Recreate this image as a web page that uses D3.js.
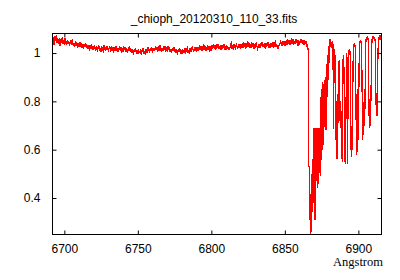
<!DOCTYPE html>
<head>
  <meta charset="utf-8">
  <script src="https://d3js.org/d3.v7.min.js"></script>
</head>
<body>
  <div id="chart"></div>

  <script>
    var width = 400;
    var height = 280;

    var title = "_chioph_20120310_110_33.fits";
    var xLabel = "Angstrom";
    var xTicks = [6700, 6750, 6800, 6850, 6900];
    var yTicks = [0.4, 0.6, 0.8, 1];

    // continuum part of the spectrum, sampled every 0.5 A
    var contStart = 6691.5;
    var contStep = 0.5;
    var contFlux = [
      1.073, 1.041, 1.065, 1.035, 1.070, 1.049, 1.076, 1.043, 1.060, 1.038, 1.062, 1.030, 1.058, 1.041, 1.065, 1.036, 1.055, 1.034, 1.060, 1.040,
      1.032, 1.054, 1.036, 1.051, 1.029, 1.047, 1.053, 1.034, 1.056, 1.030, 1.039, 1.026, 1.048, 1.030, 1.045, 1.021, 1.042, 1.024, 1.047, 1.032,
      1.041, 1.020, 1.035, 1.016, 1.039, 1.025, 1.043, 1.021, 1.032, 1.018, 1.033, 1.010, 1.031, 1.019, 1.037, 1.014, 1.028, 1.012, 1.032, 1.018,
      1.012, 1.030, 1.006, 1.024, 1.031, 1.009, 1.022, 1.005, 1.028, 1.015, 1.008, 1.032, 1.017, 1.007, 1.027, 1.013, 1.029, 1.006, 1.023, 1.026,
      1.005, 1.027, 1.009, 1.024, 1.002, 1.020, 1.026, 1.007, 1.029, 1.003, 1.019, 1.006, 1.028, 1.010, 1.025, 1.001, 1.022, 1.004, 1.027, 1.012,
      1.025, 1.004, 1.019, 1.000, 1.023, 1.009, 1.027, 1.005, 1.016, 1.002, 1.017, 0.994, 1.015, 1.003, 1.021, 0.998, 1.012, 0.996, 1.016, 1.002,
      1.000, 1.018, 0.994, 1.012, 1.019, 0.997, 1.010, 0.993, 1.016, 1.003, 1.002, 1.026, 1.011, 1.001, 1.021, 1.007, 1.023, 1.000, 1.017, 1.020,
      1.007, 1.029, 1.011, 1.026, 1.004, 1.022, 1.028, 1.009, 1.031, 1.005, 1.021, 1.008, 1.030, 1.012, 1.027, 1.003, 1.024, 1.006, 1.029, 1.014,
      1.024, 1.003, 1.018, 0.999, 1.022, 1.008, 1.026, 1.004, 1.015, 1.001, 1.017, 0.994, 1.015, 1.003, 1.021, 0.998, 1.012, 0.996, 1.016, 1.002,
      1.003, 1.021, 0.997, 1.015, 1.022, 1.000, 1.013, 0.996, 1.019, 1.006, 1.005, 1.029, 1.014, 1.004, 1.024, 1.010, 1.026, 1.003, 1.020, 1.023,
      1.010, 1.032, 1.014, 1.029, 1.007, 1.025, 1.031, 1.012, 1.034, 1.008, 1.024, 1.011, 1.033, 1.015, 1.030, 1.006, 1.027, 1.009, 1.032, 1.017,
      1.037, 1.016, 1.031, 1.012, 1.035, 1.021, 1.039, 1.017, 1.028, 1.014, 1.034, 1.011, 1.032, 1.020, 1.038, 1.015, 1.029, 1.013, 1.033, 1.019,
      1.022, 1.013, 1.016, 1.034, 1.041, 1.019, 1.032, 1.015, 1.038, 1.025, 1.018, 1.042, 1.027, 1.017, 1.037, 1.023, 1.039, 1.016, 1.033, 1.036,
      1.022, 1.044, 1.026, 1.041, 1.019, 1.037, 1.043, 1.024, 1.046, 1.020, 1.036, 1.023, 1.045, 1.027, 1.042, 1.018, 1.039, 1.021, 1.044, 1.029,
      1.017, 1.024, 1.039, 1.020, 1.043, 1.029, 1.047, 1.025, 1.036, 1.022, 1.042, 1.019, 1.040, 1.028, 1.046, 1.023, 1.037, 1.021, 1.041, 1.027,
      1.028, 1.046, 1.022, 1.040, 1.047, 1.025, 1.038, 1.021, 1.019, 1.031, 1.030, 1.054, 1.039, 1.029, 1.049, 1.035, 1.051, 1.028, 1.045, 1.048,
      1.035, 1.057, 1.039, 1.054, 1.032, 1.050, 1.056, 1.037, 1.059, 1.033, 1.049, 1.036, 1.058, 1.040, 1.055, 1.031, 1.052, 1.034, 1.057, 1.042,
      1.056, 1.037, 1.052, 1.034, 1.054, 1.039, 1.050, 1.032, 1.035
    ];

    // O2 B band, sampled every 0.25 A
    var bandStart = 6865.75;
    var bandStep = 0.25;
    var bandFlux = [
      1.015, 1.000, 0.530, 0.530, 0.405, 0.450, 0.253, 0.400, 0.260, 0.450, 0.330, 0.500, 0.340, 0.560, 0.420, 0.690, 0.380, 0.690, 0.450, 0.310,
      0.680, 0.420, 0.690, 0.470, 0.685, 0.440, 0.690, 0.500, 0.680, 0.460, 0.690, 0.520, 0.670, 0.490, 0.820, 0.520, 0.810, 0.560, 0.850, 0.600,
      0.880, 0.640, 0.870, 0.620, 0.890, 0.700, 0.880, 0.740, 0.900, 0.680, 0.930, 0.760, 0.960, 0.820, 0.990, 0.890, 1.030, 0.960, 1.055, 1.010,
      1.060, 1.030, 1.050, 1.020, 1.045, 1.030, 1.050, 1.040, 1.035, 0.685, 0.750, 1.010, 0.990, 1.015, 0.880, 0.640, 0.780, 0.600, 0.800, 0.560,
      0.750, 0.620, 0.850, 0.930, 0.960, 0.970, 0.950, 0.720, 0.800, 0.690, 0.760, 0.560, 0.700, 0.550, 0.820, 0.960, 0.990, 0.985, 0.920, 0.700,
      0.550, 0.680, 0.540, 0.700, 0.870, 1.000, 0.980, 0.700, 0.540, 0.850, 1.010, 1.005, 1.015, 1.000, 1.010, 0.980, 0.780, 0.600, 0.700, 0.570,
      0.660, 0.600, 0.850, 1.010, 1.035, 1.030, 1.040, 1.025, 1.035, 1.020, 0.900, 0.700, 0.580, 0.660, 0.590, 0.700, 0.850, 0.640, 0.760, 0.950,
      1.040, 1.050, 1.045, 1.055, 1.040, 1.050, 1.035, 0.880, 0.700, 0.640, 0.720, 0.660, 0.690, 0.850, 0.700, 0.780, 0.960, 1.030, 1.060, 1.050,
      1.065, 1.055, 1.070, 1.060, 1.050, 0.920, 0.760, 0.690, 0.740, 0.700, 0.820, 0.780, 0.900, 0.990, 1.050, 1.065, 1.055, 1.070, 1.060, 1.072,
      1.058, 1.065, 1.050, 1.060, 0.960, 0.800, 0.745, 0.760, 0.740, 0.830, 0.960, 1.040, 1.065, 1.055, 1.075, 1.060, 1.070, 1.055, 1.075, 1.065
    ];

    var spectrum = contFlux.map((f, i) => ({w: contStart + i * contStep, f: f}))
      .concat(bandFlux.map((f, i) => ({w: bandStart + i * bandStep, f: f})));

    // plot box (don't call it "top", that's window.top)
    var pl = 52, pr = 381, pt = 33, pb = 234;

    var x = d3.scaleLinear().domain([6691.6, 6915.4]).range([pl, pr]);
    var y = d3.scaleLinear().domain([0.251, 1.083]).range([pb, pt]);

    var svg = d3.select('#chart')
      .append('svg')
        .attr('width', width)
        .attr('height', height)
        .style('font-family', "'Liberation Sans', Arial, sans-serif")
        .style('font-size', '12px');

    svg.append('rect')
      .attr('width', width).attr('height', height).attr('fill', 'white');

    svg.append('clipPath').attr('id', 'plotclip')
      .append('rect')
        .attr('x', pl).attr('y', pt)
        .attr('width', pr - pl).attr('height', pb - pt);

    // the spectrum, no antialiasing so it looks like the gnuplot png
    var line = d3.line().x(d => x(d.w)).y(d => y(d.f));
    svg.append('path')
      .datum(spectrum)
      .attr('clip-path', 'url(#plotclip)')
      .attr('fill', 'none')
      .attr('stroke', '#ff0000')
      .attr('stroke-width', 1.2)
      .attr('shape-rendering', 'crispEdges')
      .attr('d', line);

    // axes, ticks pointing inwards and mirrored like gnuplot
    var tl = 4;
    svg.append('g').attr('transform', `translate(0,${pb + 0.5})`)
      .call(d3.axisBottom(x).tickValues(xTicks).tickSizeInner(-tl).tickSizeOuter(0).tickPadding(10).tickFormat(d3.format('d')))
      .call(g => g.select('.domain').remove());
    svg.append('g').attr('transform', `translate(0,${pt + 0.5})`)
      .call(d3.axisTop(x).tickValues(xTicks).tickSizeInner(-tl).tickSizeOuter(0).tickFormat(''))
      .call(g => g.select('.domain').remove());
    svg.append('g').attr('transform', `translate(${pl + 0.5},0)`)
      .call(d3.axisLeft(y).tickValues(yTicks).tickSizeInner(-tl).tickSizeOuter(0).tickPadding(12).tickFormat(d3.format('')))
      .call(g => g.select('.domain').remove());
    svg.append('g').attr('transform', `translate(${pr + 0.5},0)`)
      .call(d3.axisRight(y).tickValues(yTicks).tickSizeInner(-tl).tickSizeOuter(0).tickFormat(''))
      .call(g => g.select('.domain').remove());

    svg.selectAll('.tick text')
      .attr('fill', '#000')
      .style('font-family', "'Liberation Sans', Arial, sans-serif")
      .style('font-size', '12px');

    svg.append('rect')
      .attr('x', pl + 0.5).attr('y', pt + 0.5)
      .attr('width', pr - pl).attr('height', pb - pt)
      .attr('fill', 'none').attr('stroke', '#000').attr('stroke-width', 1);

    svg.append('text')
      .attr('x', 214).attr('y', 23)
      .attr('text-anchor', 'middle')
      .text(title);

    svg.append('text')
      .attr('x', 383).attr('y', 266)
      .attr('text-anchor', 'end')
      .style('font-family', "'Liberation Serif', 'Times New Roman', serif")
      .style('font-size', '12.5px')
      .text(xLabel);
  </script>
</body>
<style>
  body { margin: 0; background: white; }
</style>
